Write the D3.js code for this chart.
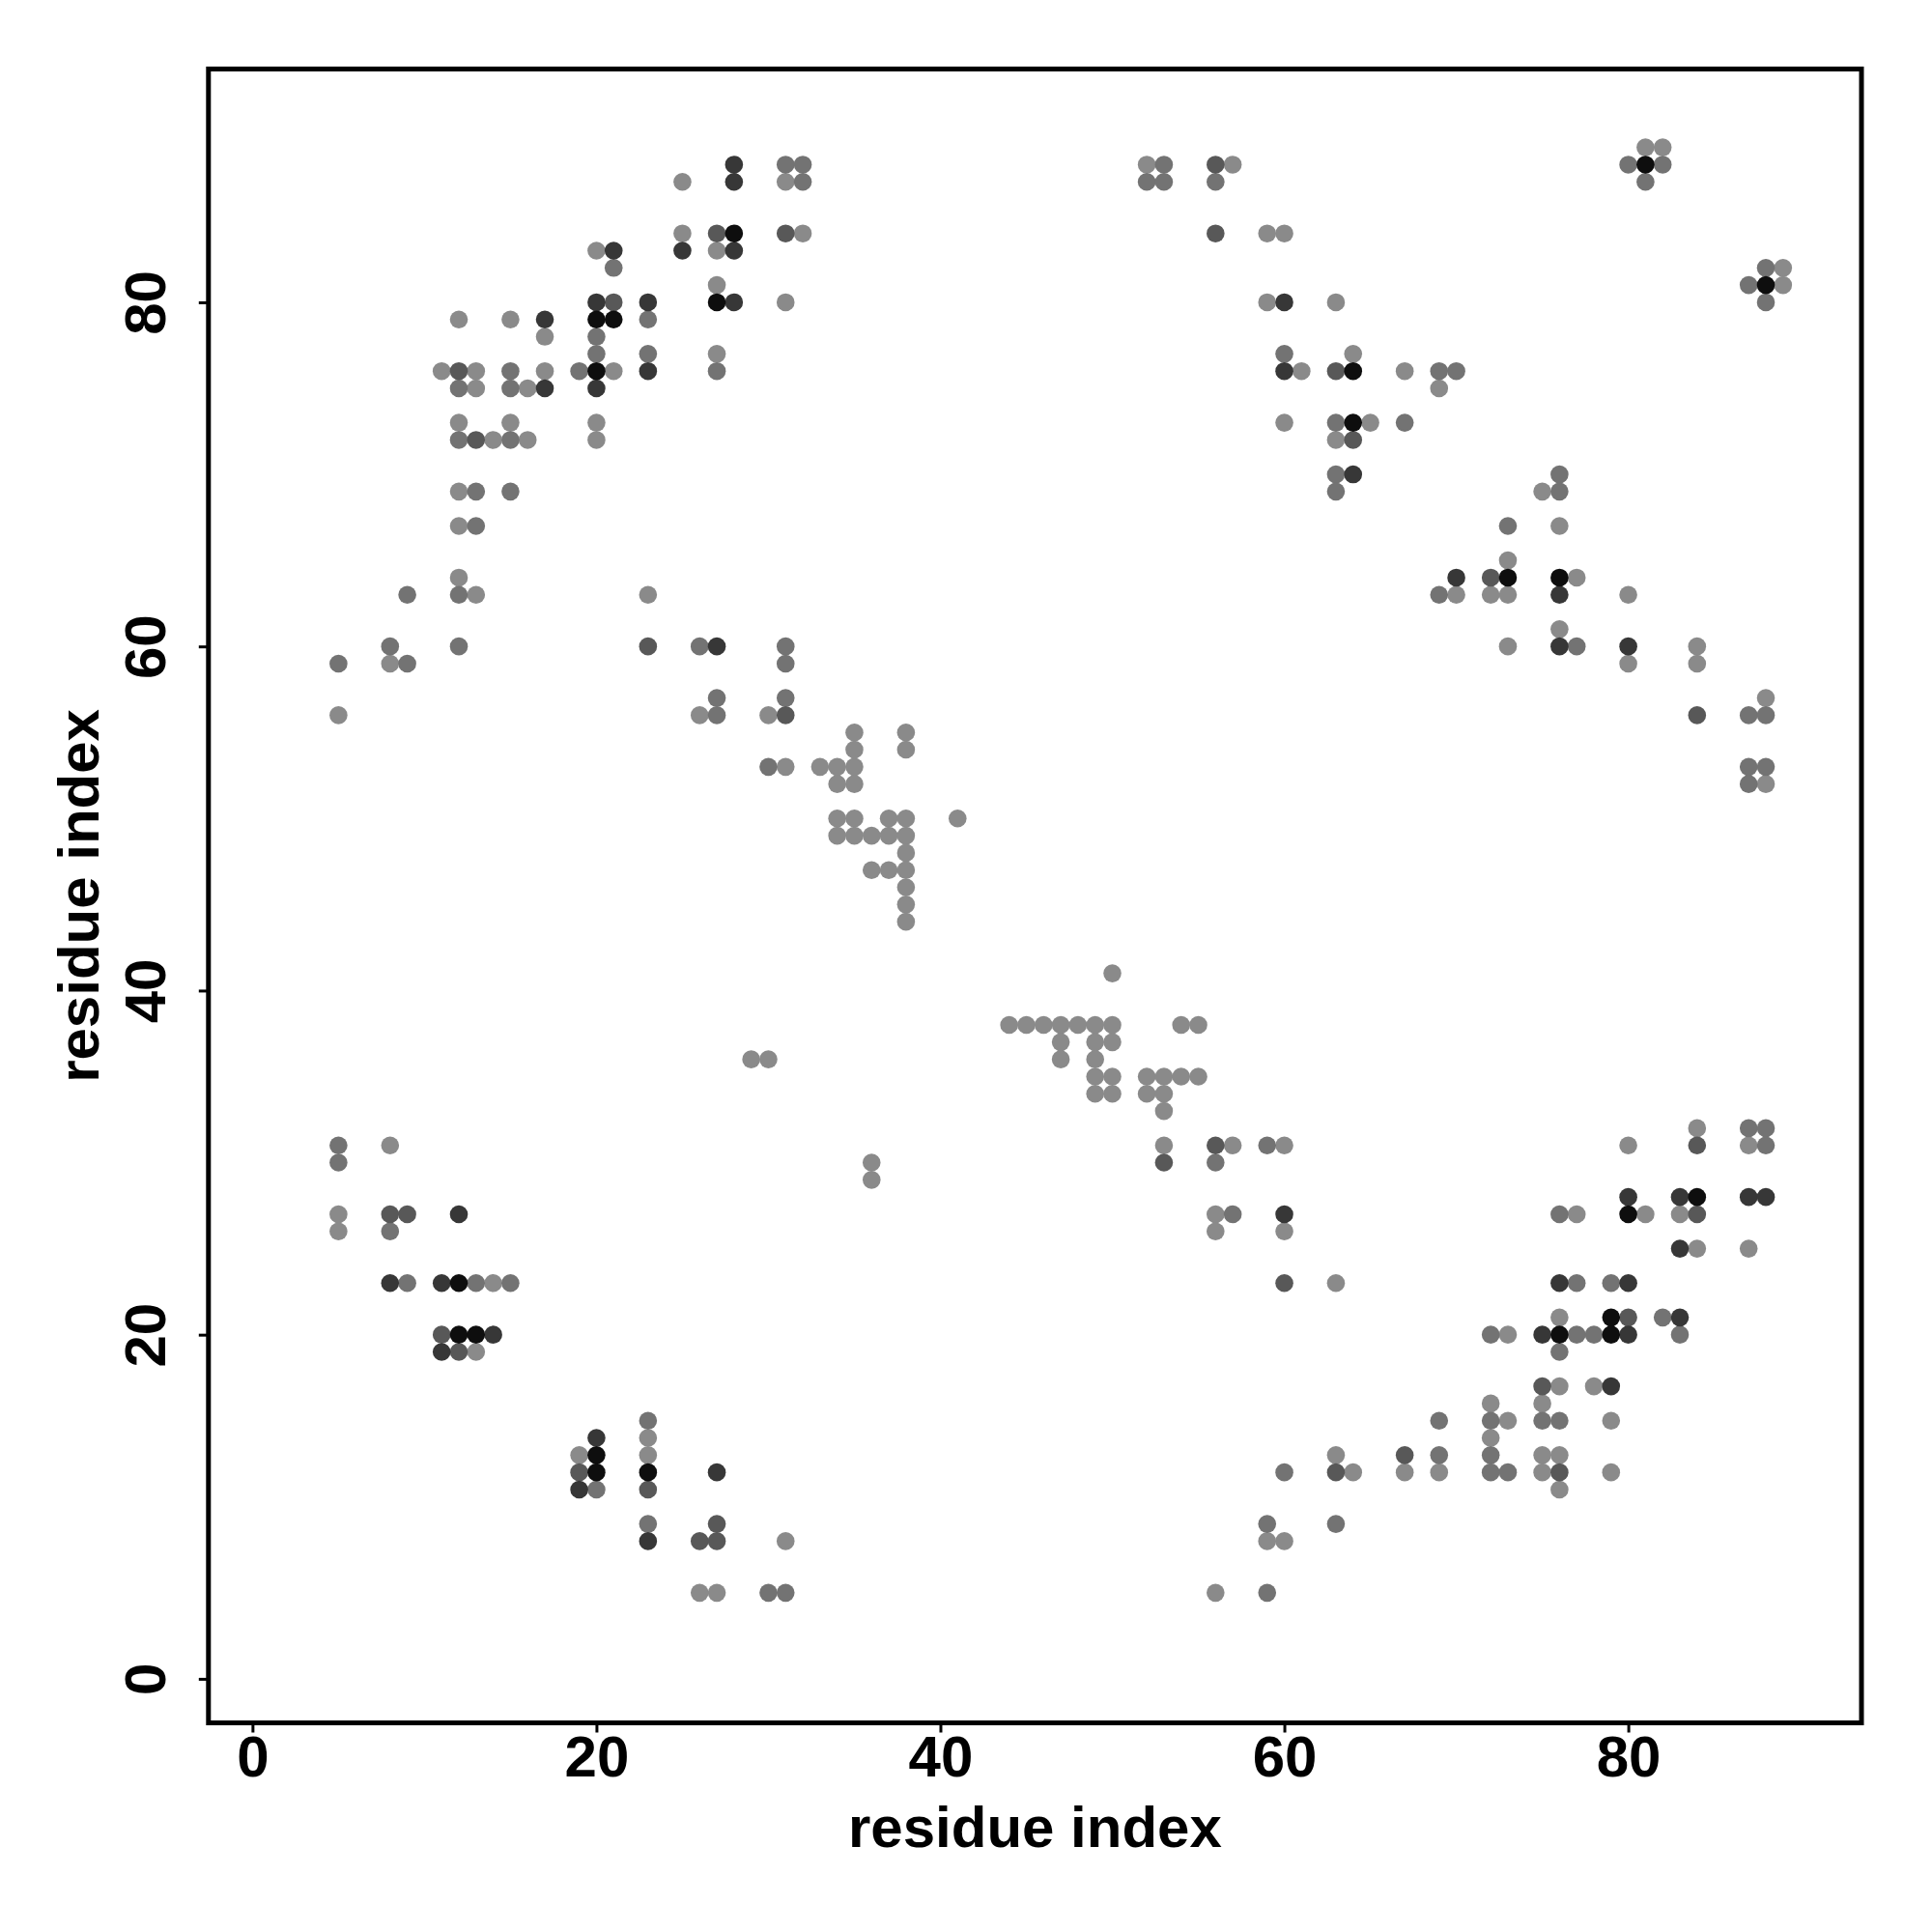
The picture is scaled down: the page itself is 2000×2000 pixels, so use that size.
<!DOCTYPE html>
<html>
<head>
<meta charset="utf-8">
<script src="https://cdn.jsdelivr.net/npm/d3@7"></script>
<style>
  html, body { margin: 0; padding: 0; background: #fff; }
  svg { display: block; }
</style>
</head>
<body>
<svg id="chart" width="2000" height="2000"></svg>
<script>
// residue-residue contacts: [residue i, residue j, contact weight (overlap count)]
const contactsUpperLeft = [
  [5,59,2],[5,56,1],[8,60,2],[8,59,1],[9,59,2],[9,63,2],
  [11,76,1],
  [12,79,1],[12,76,3],[12,75,2],[12,73,1],[12,72,2],[12,69,1],[12,67,1],[12,64,1],[12,63,2],[12,60,2],
  [13,76,1],[13,75,1],[13,72,3],[13,69,2],[13,67,2],[13,63,1],
  [14,72,1],
  [15,79,1],[15,76,2],[15,75,2],[15,73,1],[15,72,2],[15,69,2],
  [16,75,1],[16,72,1],
  [17,79,4],[17,78,1],[17,76,1],[17,75,4],
  [19,76,2],
  [20,83,1],[20,80,4],[20,79,5],[20,78,2],[20,77,2],[20,76,5],[20,75,4],[20,73,1],[20,72,1],
  [21,83,4],[21,82,2],[21,80,3],[21,79,5],[21,76,1],
  [23,80,4],[23,79,2],[23,77,2],[23,76,4],
  [25,87,1],[25,84,1],[25,83,4],
  [27,84,3],[27,83,1],[27,81,1],[27,80,5],[27,77,1],[27,76,2],
  [28,88,4],[28,87,4],[28,84,5],[28,83,4],[28,80,4],
  [31,88,2],[31,87,1],[31,84,3],[31,80,1],
  [32,88,2],[32,87,2],[32,84,1]
];
const contactsCenterUpper = [
  [23,63,1],[23,60,3],[26,60,2],[27,60,4],[31,60,2],[31,59,2],[27,57,2],[31,57,2],
  [26,56,1],[27,56,2],[30,56,1],[31,56,3],[30,53,2],[31,53,1],[33,53,1],[34,53,1],[35,53,1],
  [34,52,1],[35,52,1],[35,55,1],[35,54,1],[38,55,1],[38,54,1],
  [34,50,1],[35,50,1],[37,50,1],[38,50,1],[41,50,1],
  [34,49,1],[35,49,1],[36,49,1],[37,49,1],[38,49,1],[38,48,1],
  [36,47,1],[37,47,1],[38,47,1],[38,46,1],[38,45,1],[38,44,1]
];
const contactsCenterLower = [
  [50,41,1],[44,38,1],[45,38,1],[46,38,1],[47,38,1],[48,38,1],[49,38,1],[50,38,1],[54,38,1],[55,38,1],
  [47,37,1],[49,37,1],[50,37,1],[47,36,1],[49,36,1],
  [49,35,1],[50,35,1],[52,35,1],[53,35,1],[54,35,1],[55,35,1],
  [49,34,1],[50,34,1],[52,34,1],[53,34,1],[53,33,1],
  [53,31,1],[53,30,3],[56,31,3],[57,31,1],[59,31,2],[60,31,1],[56,30,2],
  [56,27,1],[57,27,2],[60,27,4],[56,26,1],[60,26,1],
  [60,23,3],[63,23,1],[69,15,2],[63,13,1],[67,13,3],[69,13,2],
  [60,12,2],[63,12,3],[64,12,1],[67,12,1],[69,12,1],
  [59,9,2],[63,9,2],[59,8,1],[60,8,1],[56,5,1],[59,5,2]
];
const contactsLowerRight = [
  [84,32,1],[87,32,2],[88,32,2],
  [80,31,1],[84,31,3],[87,31,1],[88,31,2],
  [80,28,4],[83,28,4],[84,28,5],[87,28,4],[88,28,4],
  [76,27,2],[77,27,1],[80,27,5],[81,27,1],[83,27,1],[84,27,3],
  [83,25,4],[84,25,1],[87,25,1],
  [76,23,4],[77,23,2],[79,23,2],[80,23,4],
  [76,21,1],[79,21,5],[80,21,3],[82,21,2],[83,21,4],
  [72,20,2],[73,20,1],[75,20,4],[76,20,5],[77,20,2],[78,20,2],[79,20,5],[80,20,4],[83,20,2],
  [76,19,2],
  [75,17,3],[76,17,1],[78,17,1],[79,17,4],
  [72,16,1],[75,16,1],
  [72,15,2],[73,15,1],[75,15,2],[76,15,2],[79,15,1],
  [72,14,1],
  [72,13,2],[75,13,1],[76,13,1],
  [72,12,2],[73,12,2],[75,12,1],[76,12,3],[79,12,1],
  [76,11,1]
];
const contactsUpperRight = [
  [81,89,1],[82,89,1],[80,88,2],[81,88,5],[82,88,2],[81,87,2],
  [88,82,2],[89,82,1],[87,81,2],[88,81,5],[89,81,1],[88,80,2],
  [52,88,1],[53,88,2],[56,88,3],[57,88,1],[52,87,2],[53,87,2],[56,87,2],
  [56,84,3],[59,84,1],[60,84,1],[59,80,1],[60,80,4],[63,80,1],
  [60,77,2],[64,77,1],[60,76,4],[61,76,1],[63,76,3],[64,76,5],[67,76,1],[69,76,2],[70,76,2],
  [69,75,1],[60,73,1],[63,73,2],[64,73,5],[65,73,1],[67,73,2],[63,72,1],[64,72,3],
  [63,70,2],[64,70,4],[63,69,2],
  [76,70,2],[75,69,1],[76,69,2],[73,67,2],[76,67,1],[73,65,1],
  [70,64,4],[72,64,3],[73,64,5],[76,64,5],[77,64,1],
  [69,63,2],[70,63,1],[72,63,1],[73,63,1],[76,63,4],[80,63,1],
  [76,61,1],[73,60,1],[76,60,4],[77,60,2],[80,60,4],[84,60,1],[80,59,1],[84,59,1],
  [88,57,1],[84,56,3],[87,56,2],[88,56,2],[87,53,2],[88,53,2],[87,52,2],[88,52,1]
];
const contactsLowerLeft = [
  [5,31,2],[5,30,2],[5,27,1],[5,26,1],[8,31,1],[8,27,3],[9,27,3],[8,26,2],[12,27,4],
  [8,23,4],[9,23,2],[11,23,4],[12,23,5],[13,23,2],[14,23,1],[15,23,2],
  [11,20,3],[12,20,5],[13,20,5],[14,20,4],[11,19,4],[12,19,3],[13,19,1],
  [19,13,1],[19,12,3],[19,11,4],[20,14,4],[20,13,5],[20,12,5],[20,11,2],
  [23,15,2],[23,14,1],[23,13,1],[23,12,5],[23,11,3],[23,9,2],[23,8,4],
  [26,8,3],[27,9,3],[27,8,3],[27,12,4],[26,5,1],[27,5,1],[30,5,2],[31,5,2],[31,8,1],
  [36,30,1],[36,29,1],[29,36,1],[30,36,1]
];
const tickValues = [0, 20, 40, 60, 80];
const residueRange = [1, 90];
const axisTitleX = "residue index";
const axisTitleY = "residue index";

(function () {
  const contacts = [].concat(contactsUpperLeft, contactsCenterUpper, contactsCenterLower,
    contactsLowerRight, contactsUpperRight, contactsLowerLeft)
    .sort((a, b) => a[2] - b[2]);

  const svg = d3.select("#chart");
  const mLeft = 215.8, mRight = 1927, mTop = 71.4, mBottom = 1783.5;
  const pad = (residueRange[1] - residueRange[0]) * 0.04;
  const x = d3.scaleLinear().domain([residueRange[0] - pad, residueRange[1] + pad]).range([mLeft, mRight]);
  const y = d3.scaleLinear().domain([residueRange[0] - pad, residueRange[1] + pad]).range([mBottom, mTop]);
  const shade = d3.scaleLinear().domain([1, 2, 3, 4, 5]).range([138, 115, 88, 55, 14]);

  const font = "'Liberation Sans', Arial, Helvetica, sans-serif";
  const fs = "60px";

  // points
  svg.append("g").selectAll("circle").data(contacts).join("circle")
    .attr("cx", d => x(d[0]))
    .attr("cy", d => y(d[1]))
    .attr("r", 9.3)
    .attr("fill", d => { const v = Math.round(shade(d[2])); return `rgb(${v},${v},${v})`; });

  // axes
  const xAxis = svg.append("g").attr("transform", `translate(0,${mBottom})`)
    .call(d3.axisBottom(x).tickValues(tickValues).tickSize(10).tickFormat(d3.format("d")));
  const yAxis = svg.append("g").attr("transform", `translate(${mLeft},0)`)
    .call(d3.axisLeft(y).tickValues(tickValues).tickSize(10).tickFormat(d3.format("d")));

  [xAxis, yAxis].forEach(g => {
    g.select(".domain").remove();
    g.selectAll(".tick line").attr("stroke", "#000").attr("stroke-width", 3);
    g.selectAll(".tick text")
      .attr("fill", "#000")
      .style("font-family", font)
      .style("font-weight", "bold")
      .style("font-size", fs);
  });
  xAxis.selectAll(".tick text").attr("y", 55).attr("dy", 0).attr("text-anchor", "middle");
  yAxis.selectAll(".tick text")
    .attr("x", 0).attr("y", 0).attr("dy", 0)
    .attr("text-anchor", "middle")
    .attr("transform", "translate(-45,0) rotate(-90)");

  // frame
  svg.append("rect")
    .attr("x", mLeft).attr("y", mTop)
    .attr("width", mRight - mLeft).attr("height", mBottom - mTop)
    .attr("fill", "none").attr("stroke", "#000").attr("stroke-width", 5);

  // axis titles
  svg.append("text")
    .attr("x", (mLeft + mRight) / 2).attr("y", 1912)
    .attr("text-anchor", "middle")
    .style("font-family", font).style("font-weight", "bold").style("font-size", fs)
    .text(axisTitleX);
  svg.append("text")
    .attr("transform", `translate(102,${(mTop + mBottom) / 2}) rotate(-90)`)
    .attr("text-anchor", "middle")
    .style("font-family", font).style("font-weight", "bold").style("font-size", fs)
    .text(axisTitleY);
})();
</script>
</body>
</html>
